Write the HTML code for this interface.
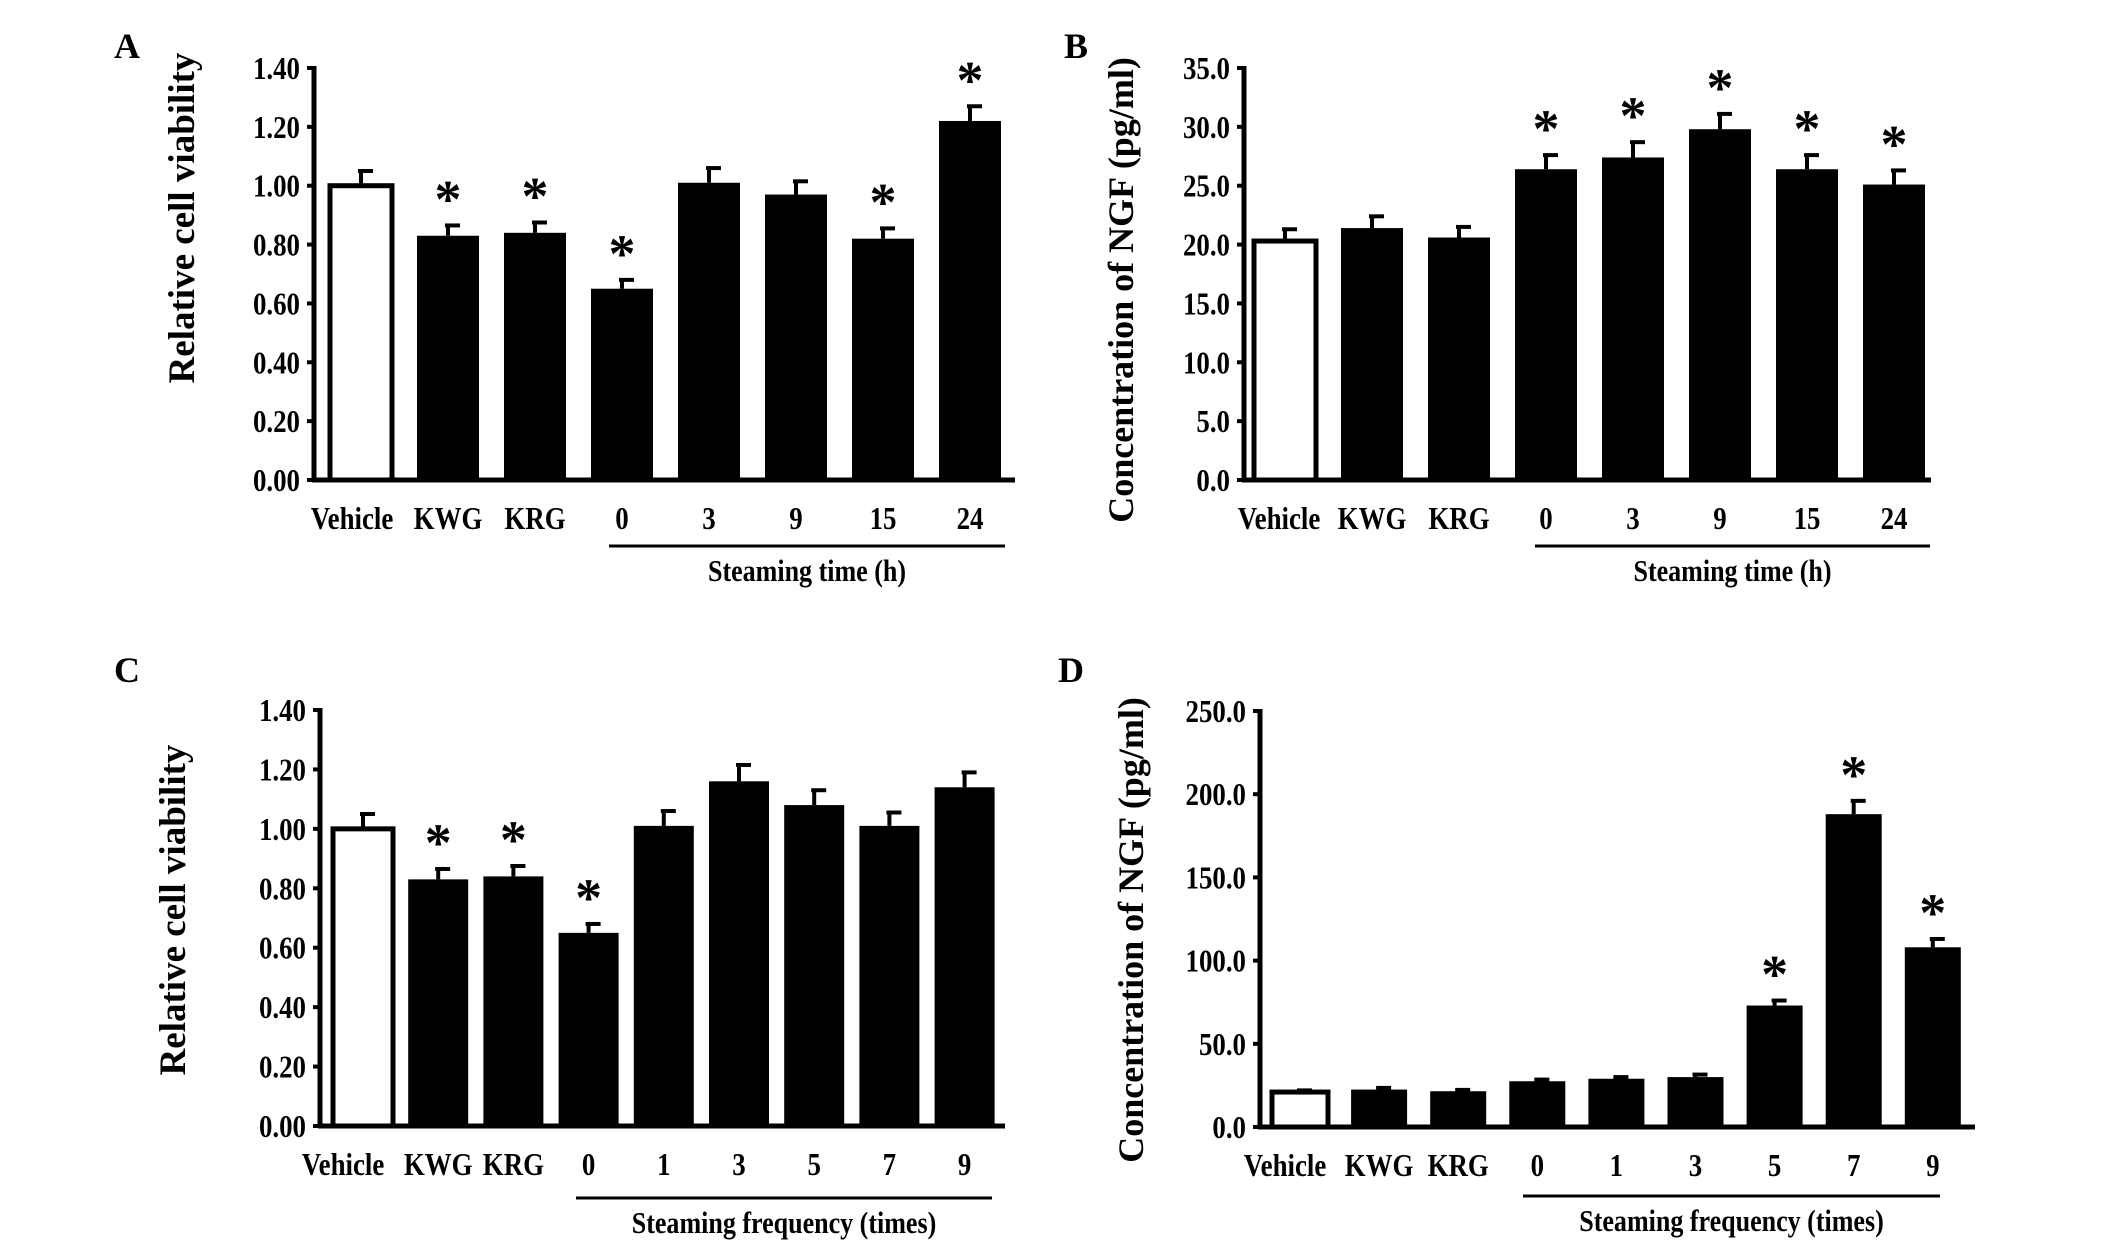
<!DOCTYPE html>
<html><head><meta charset="utf-8"><style>
html,body{margin:0;padding:0;background:#fff;}
svg{display:block;}
text{font-family:"Liberation Serif",serif;font-weight:bold;fill:#000;}
</style></head><body>
<svg id="fig" width="2126" height="1258" viewBox="0 0 2126 1258" xmlns="http://www.w3.org/2000/svg"></svg>
<script>
// Panel A data
const catsA = ["Vehicle","KWG","KRG","0","3","9","15","24"];
const valsA = [1.00,0.83,0.84,0.65,1.01,0.97,0.82,1.22];
const errA = [0.05,0.035,0.035,0.03,0.05,0.045,0.035,0.05];
const starA = [0,1,1,1,0,0,1,1];
const ticksA = ["0.00","0.20","0.40","0.60","0.80","1.00","1.20","1.40"];
// Panel B data
const catsB = ["Vehicle","KWG","KRG","0","3","9","15","24"];
const valsB = [20.3,21.4,20.6,26.4,27.4,29.8,26.4,25.1];
const errB = [1.0,1.0,0.9,1.2,1.3,1.3,1.2,1.2];
const starB = [0,0,0,1,1,1,1,1];
const ticksB = ["0.0","5.0","10.0","15.0","20.0","25.0","30.0","35.0"];
// Panel C data
const catsC = ["Vehicle","KWG","KRG","0","1","3","5","7","9"];
const valsC = [1.00,0.83,0.84,0.65,1.01,1.16,1.08,1.01,1.14];
const errC = [0.05,0.035,0.035,0.03,0.05,0.055,0.05,0.045,0.05];
const starC = [0,1,1,1,0,0,0,0,0];
const ticksC = ["0.00","0.20","0.40","0.60","0.80","1.00","1.20","1.40"];
// Panel D data
const catsD = ["Vehicle","KWG","KRG","0","1","3","5","7","9"];
const valsD = [21,22.5,21.5,27.5,29,30,73,188,108];
const errD = [1,1,0.8,1,1,1.5,3,8,5];
const starD = [0,0,0,0,0,0,1,1,1];
const ticksD = ["0.0","50.0","100.0","150.0","200.0","250.0"];

const NS="http://www.w3.org/2000/svg";
const svg=document.getElementById('fig');
function mk(tag,attrs,parent){const e=document.createElementNS(NS,tag);for(const k in attrs)e.setAttribute(k,attrs[k]);(parent||svg).appendChild(e);return e;}
function ctext(x,y,size,anchor,str,parent){
  const t=mk('text',{x:0,y:0,'font-size':size,'text-anchor':anchor,transform:`translate(${x},${y}) scale(0.84,1)`},parent);
  t.textContent=str;return t;
}

function panel(o){
  const g=mk('g',{});
  
  
  const ymax=parseFloat(o.ticks[o.ticks.length-1]);
  const y=v=>o.y0-(v/ymax)*(o.y0-o.yTop);
  const x=i=>o.c0+i*o.pitch;
  const L=mk('text',{x:o.lx,y:o.ly,'font-size':36},g);L.textContent=o.id;
  
  
  const yl=mk('text',{x:0,y:0,'font-size':o.ylfs,'text-anchor':'middle',transform:`translate(${o.ylx},${o.yly}) rotate(-90)`},g);yl.textContent=o.ylabel;
  
  
  o.ticks.forEach(t=>{
    const v=parseFloat(t);
    const tk=mk('line',{x1:o.ax-7,x2:o.ax,y1:y(v),y2:y(v),stroke:'#000','stroke-width':4},g);
    
    
    const tl=ctext(o.ax-14,y(v)+11,32,'end',t,g);
    
    
  });
  o.cats.forEach((c,i)=>{
    const v=o.vals[i],e=o.err[i],cx=x(i),bw=o.bw;
    const eb=mk('line',{x1:cx,x2:cx,y1:y(v),y2:y(v+e),stroke:'#000','stroke-width':4},g);
    
    
    const cap=mk('line',{x1:cx-3,x2:cx+12,y1:y(v+e),y2:y(v+e),stroke:'#000','stroke-width':4},g);
    
    
    const r=mk('rect',{x:cx-bw/2,y:y(v),width:bw,height:o.y0-y(v),fill:i===0?'#fff':'#000',stroke:'#000','stroke-width':i===0?5:0},g);
    
    
    if(o.star[i]){
      const s=mk('text',{x:cx,y:y(v+e)-8,'font-size':54,'text-anchor':'middle'},g);s.textContent='*';
      
      
    }
    const xl=ctext(cx+(i===0?o.voff:0),o.xly,32,'middle',c,g);
    
    
  });
  const ya=mk('line',{x1:o.ax,x2:o.ax,y1:o.yTop-2,y2:o.y0+2,stroke:'#000','stroke-width':5},g);
  
  
  const xa=mk('line',{x1:o.ax-2,x2:o.axEnd,y1:o.y0,y2:o.y0,stroke:'#000','stroke-width':5},g);
  
  
  const ul=mk('line',{x1:o.u1,x2:o.u2,y1:o.uy,y2:o.uy,stroke:'#000','stroke-width':3},g);
  
  
  const gl=ctext((o.u1+o.u2)/2,o.uy+35,31,'middle',o.group,g);
  
  
}

panel({id:'A',cats:catsA,vals:valsA,err:errA,star:starA,ticks:ticksA,ax:314,axEnd:1015,y0:480,yTop:68,c0:361,pitch:87,bw:62,voff:-9,
  lx:114,ly:58,ylabel:'Relative cell viability',ylfs:37,ylx:194,yly:218,xly:529,u1:609,u2:1005,uy:546,group:'Steaming time (h)'});
panel({id:'B',cats:catsB,vals:valsB,err:errB,star:starB,ticks:ticksB,ax:1244,axEnd:1931,y0:480,yTop:68,c0:1285,pitch:87,bw:62,voff:-6,
  lx:1064,ly:58,ylabel:'Concentration of NGF (pg/ml)',ylfs:36,ylx:1133,yly:290,xly:529,u1:1535,u2:1930,uy:546,group:'Steaming time (h)'});
panel({id:'C',cats:catsC,vals:valsC,err:errC,star:starC,ticks:ticksC,ax:320,axEnd:1005,y0:1126,yTop:710,c0:363,pitch:75.2,bw:60,voff:-20,
  lx:114,ly:682,ylabel:'Relative cell viability',ylfs:37,ylx:185,yly:910,xly:1175,u1:576,u2:992,uy:1198,group:'Steaming frequency (times)'});
panel({id:'D',cats:catsD,vals:valsD,err:errD,star:starD,ticks:ticksD,ax:1260,axEnd:1975,y0:1127,yTop:711,c0:1300,pitch:79.1,bw:56,voff:-15,
  lx:1058,ly:682,ylabel:'Concentration of NGF (pg/ml)',ylfs:36,ylx:1143,yly:930,xly:1176,u1:1523,u2:1940,uy:1196,group:'Steaming frequency (times)'});
</script>
</body></html>
